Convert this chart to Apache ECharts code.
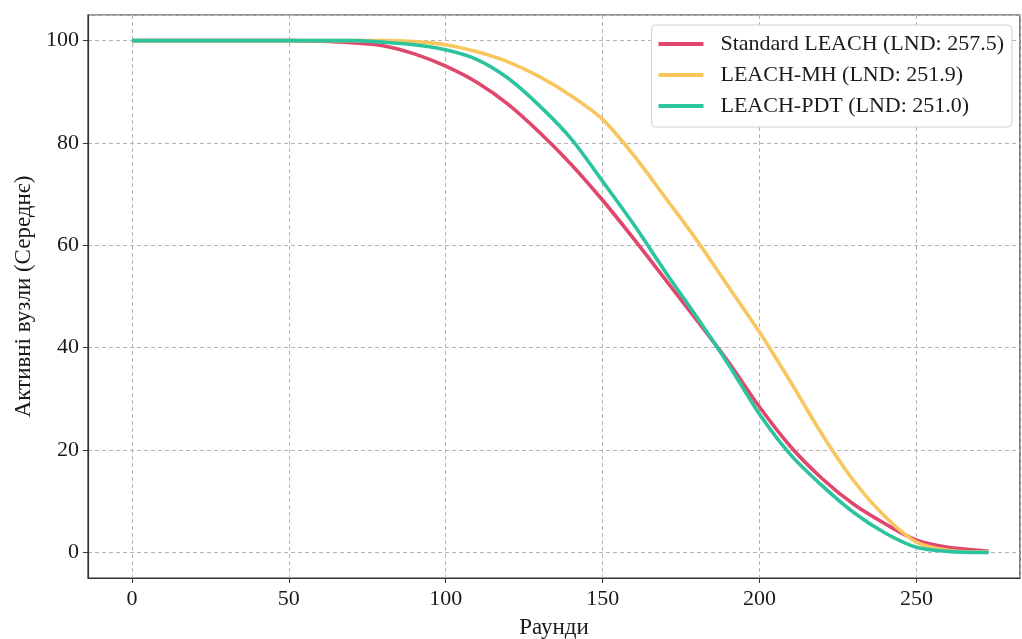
<!DOCTYPE html>
<html>
<head>
<meta charset="utf-8">
<script src="https://cdn.jsdelivr.net/npm/echarts@6/dist/echarts.min.js"></script>
<style>
html,body{margin:0;padding:0;background:#fff;}
#chart{width:1022px;height:639px;}
</style>
</head>
<body>
<div id="chart"></div>
<script>
const rounds = [0,10,20,30,40,50,60,70,80,90,100,110,120,130,140,150,160,170,180,190,200,210,220,230,240,250,260,270,273];
const standardLeach = [100,100,100,100,100,100,99.9,99.6,99.0,97.4,95.0,91.8,87.5,82.0,75.8,68.8,61.2,53.3,45.4,37.3,28.4,20.6,14.4,9.4,5.6,2.4,1.0,0.4,0.2];
const leachMH = [100,100,100,100,100,100,100,100,100,99.8,99.2,97.8,95.8,92.9,89.2,84.6,77.5,69.3,61.0,52.0,43.0,33.2,23.0,14.0,7.0,2.0,0.4,0.1,0.1];
const leachPDT = [100,100,100,100,100,100,100,100,99.7,99.2,98.2,96.3,92.6,87.2,80.8,72.5,64.0,54.8,46.0,36.8,27.0,19.0,13.0,7.8,3.8,1.0,0.2,0.0,0.0];
const seriesNames = ['Standard LEACH (LND: 257.5)','LEACH-MH (LND: 251.9)','LEACH-PDT (LND: 251.0)'];
const seriesColors = ['#e0476c','#f8c65e','#2bc49f'];
const xName = 'Раунди';
const yName = 'Активні вузли (Середнє)';

const font = 'Liberation Serif, Times New Roman, serif';
const toPairs = arr => rounds.map((r,i)=>[r,arr[i]]);
const allData = [standardLeach, leachMH, leachPDT];

const chart = echarts.init(document.getElementById('chart'), null, {renderer:'canvas'});
chart.setOption({
  animation:false,
  backgroundColor:'#fff',
  grid:{left:88,right:2,top:15,bottom:61,show:true,borderColor:'#333',borderWidth:1.2,containLabel:false,outerBoundsMode:'none'},
  legend:{
    orient:'vertical', right:10, top:25,
    padding:[7,8,9,7],
    backgroundColor:'#fff', borderColor:'#d0d0d0', borderWidth:1, borderRadius:4,
    itemWidth:45, itemHeight:4, itemGap:7,
    icon:'rect',
    textStyle:{fontFamily:font, fontSize:22, color:'#1a1a1a', lineHeight:24, padding:[0,0,0,12]},
    data:seriesNames
  },
  xAxis:{
    type:'value', min:-14, max:283, minInterval:50, maxInterval:50,
    name:xName, nameLocation:'middle', nameGap:38,
    nameTextStyle:{fontFamily:font, fontSize:23, color:'#1a1a1a'},
    axisLine:{show:true,onZero:false,lineStyle:{color:'#333',width:1.2}},
    axisTick:{show:true,length:5,lineStyle:{color:'#333'}},
    axisLabel:{fontFamily:font,fontSize:22,color:'#1a1a1a',margin:10,showMinLabel:false,showMaxLabel:false},
    splitLine:{show:true,lineStyle:{color:'#b5b5b5',type:[4,3],width:1}}
  },
  yAxis:{
    type:'value', min:-5, max:105, minInterval:20, maxInterval:20,
    name:yName, nameLocation:'middle', nameGap:51, nameRotate:90,
    nameTextStyle:{fontFamily:font, fontSize:23, color:'#1a1a1a'},
    axisLine:{show:true,onZero:false,lineStyle:{color:'#333',width:1.2}},
    axisTick:{show:true,length:5,lineStyle:{color:'#333'}},
    axisLabel:{fontFamily:font,fontSize:22,color:'#1a1a1a',margin:9,showMinLabel:false,showMaxLabel:false},
    splitLine:{show:true,lineStyle:{color:'#b5b5b5',type:[4,3],width:1}}
  },
  series: seriesNames.map((n,i)=>({
    name:n, type:'line', data:toPairs(allData[i]),
    showSymbol:false, symbol:'none', smooth:0.3,
    lineStyle:{color:seriesColors[i], width:3.6},
    itemStyle:{color:seriesColors[i]},
    z:2+i
  }))
});
</script>
</body>
</html>
